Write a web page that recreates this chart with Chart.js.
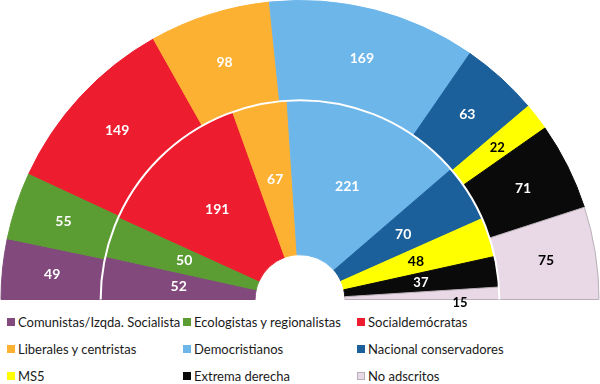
<!DOCTYPE html>
<html>
<head>
<meta charset="utf-8">
<script src="https://cdn.jsdelivr.net/npm/chart.js@4/dist/chart.umd.min.js"></script>
<style>
  body { margin: 0; background: #fff; font-family: Lato, "Open Sans", sans-serif; }
  #wrap { position: relative; width: 600px; height: 310px; }
  #leyenda { position: relative; width: 600px; height: 74px; }
  .item { position: absolute; font-size: 13px; color: #1a1a1a; white-space: nowrap; line-height: 16px; }
  .item span.sq { display: inline-block; width: 8px; height: 8px; margin-right: 3px; vertical-align: 1px; }
</style>
</head>
<body>
<div id="wrap"><canvas id="chart" width="600" height="310"></canvas></div>
<div id="leyenda"></div>
<script>
// grupos del parlamento
const grupos = ['Comunistas/Izqda. Socialista', 'Ecologistas y regionalistas', 'Socialdemócratas',
  'Liberales y centristas', 'Democristianos', 'Nacional conservadores', 'MS5', 'Extrema derecha', 'No adscritos'];
const colores = ['#81497c', '#5b9c33', '#ed1c2e', '#fdb133', '#6db6ea', '#1b5f9b', '#ffff00', '#0a0a0a', '#e9d8e6'];
const escanosExterior = [49, 55, 149, 98, 169, 63, 22, 71, 75];
const escanosInterior = [52, 50, 191, 67, 221, 70, 48, 37, 15];

// texto negro sobre los colores claros
const colorTexto = colores.map(c => (c === '#ffff00' || c === '#e9d8e6') ? '#000' : '#fff');
const bordes = colores.map(c => c === '#e9d8e6' ? '#b8b0b6' : c);

// etiquetas con el numero de escaños y linea blanca entre anillos
const etiquetas = {
  id: 'etiquetas',
  afterDatasetsDraw(chart) {
    const ctx = chart.ctx;
    const ext = chart.getDatasetMeta(0).data[0];
    ctx.save();
    ctx.strokeStyle = '#fff';
    ctx.lineWidth = 2;
    ctx.beginPath();
    ctx.arc(ext.x, ext.y, ext.innerRadius, Math.PI, 2 * Math.PI);
    ctx.stroke();

    ctx.textAlign = 'center';
    ctx.textBaseline = 'middle';
    chart.data.datasets.forEach((ds, i) => {
      chart.getDatasetMeta(i).data.forEach((arc, j) => {
        let p = arc.tooltipPosition();
        const span = arc.endAngle - arc.startAngle;
        ctx.font = 'bold ' + (span < 0.2 ? 13 : 14) + 'px Lato, sans-serif';
        ctx.fillStyle = colorTexto[j];
        if (span < 0.08) {
          // porción muy fina: número debajo
          p = { x: arc.x + (arc.innerRadius + arc.outerRadius) / 2 + 38, y: arc.y + 3 };
          ctx.fillStyle = '#000';
        }
        ctx.fillText(ds.data[j], p.x, p.y);
      });
    });
    ctx.restore();
  }
};

new Chart(document.getElementById('chart'), {
  type: 'doughnut',
  data: {
    labels: grupos,
    datasets: [
      { data: escanosExterior, backgroundColor: colores, borderColor: bordes, borderWidth: 1, weight: 100 },
      { data: escanosInterior, backgroundColor: colores, borderColor: bordes, borderWidth: 1, weight: 155 }
    ]
  },
  options: {
    responsive: false,
    animation: false,
    rotation: -90,
    circumference: 180,
    cutout: '15%',
    layout: { padding: { bottom: 10 } },
    plugins: { legend: { display: false }, tooltip: { enabled: false } }
  },
  plugins: [etiquetas]
});

// leyenda en tres columnas
const leyenda = document.getElementById('leyenda');
const colX = [7, 183, 357];
grupos.forEach((g, i) => {
  const d = document.createElement('div');
  d.className = 'item';
  d.style.left = colX[i % 3] + 'px';
  d.style.top = (4 + Math.floor(i / 3) * 27) + 'px';
  d.innerHTML = '<span class="sq" style="background:' + colores[i] + ';' +
    (i === 8 ? 'outline:1px solid #b8b0b6;outline-offset:-1px;' : '') + '"></span>' + g;
  leyenda.appendChild(d);
});
</script>
</body>
</html>
